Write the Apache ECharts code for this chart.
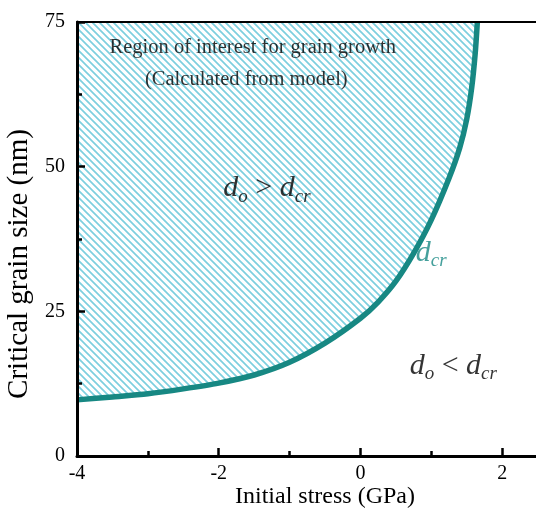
<!DOCTYPE html>
<html>
<head>
<meta charset="utf-8">
<script src="https://cdn.jsdelivr.net/npm/echarts@6/dist/echarts.min.js"></script>
<style>
html,body{margin:0;padding:0;background:#fff;}
#chart{width:536px;height:508px;}
</style>
</head>
<body>
<div id="chart"></div>
<script>
// ---- data ----
const stress = [-4, -3.5, -3, -2.5, -2, -1.5, -1, -0.5, 0, 0.25, 0.5, 0.75, 1.0, 1.25, 1.4, 1.5, 1.57, 1.62, 1.65];
const grainSize = [9.7, 10.2, 10.75, 11.6, 12.6, 14.0, 16.2, 19.5, 23.8, 26.6, 30.2, 35.0, 40.8, 48.0, 53.2, 58.2, 63.6, 69.6, 75.0];
const xTicks = [-4, -2, 0, 2];
const yTicks = [0, 25, 50, 75];
const xAxisTitle = 'Initial stress (GPa)';
const yAxisTitle = 'Critical grain size (nm)';
const annotationText = [
  '{t|Region of interest for grain growth}',
  '{t|(Calculated from model)}',
  '{d|d}{s|o}{op| > }{d|d}{s|cr}',
  '{dc|d}{sc|cr}',
  '{d|d}{s|o}{op| < }{d|d}{s|cr}'
];
const annotationX = [-1.52, -1.61, -1.32, 1.00, 1.31];
const annotationY = [70.5, 65.0, 46.3, 35.1, 15.6];

// ---- styles ----
const serif = 'Liberation Serif';
const teal = '#178883';
const hatch = '#7dcfdf';

function makeHatch() {
  const s = 7;
  const c = document.createElement('canvas');
  c.width = s; c.height = s;
  const ctx = c.getContext('2d');
  ctx.strokeStyle = hatch;
  ctx.lineWidth = 1.7;
  ctx.lineCap = 'square';
  [[-s, 0], [0, 0], [0, -s]].forEach(([ox, oy]) => {
    ctx.beginPath();
    ctx.moveTo(ox - 1, oy - 1);
    ctx.lineTo(ox + s + 1, oy + s + 1);
    ctx.stroke();
  });
  return c;
}

const richStyles = {
  t: { fontFamily: serif, fontSize: 20.5, color: '#000' },
  d: { fontFamily: serif, fontSize: 30, fontStyle: 'italic', color: '#000' },
  s: { fontFamily: serif, fontSize: 19, fontStyle: 'italic', color: '#000', padding: [17, 0, 0, 0] },
  op: { fontFamily: serif, fontSize: 30, color: '#000' },
  dc: { fontFamily: serif, fontSize: 30, fontStyle: 'italic', color: teal },
  sc: { fontFamily: serif, fontSize: 19, fontStyle: 'italic', color: teal, padding: [17, 0, 0, 0] }
};

const chart = echarts.init(document.getElementById('chart'), null, { renderer: 'canvas' });
const pattern = { image: makeHatch(), repeat: 'repeat' };

const option = {
  animation: false,
  backgroundColor: '#fff',
  grid: { left: 77, top: 22, width: 496, height: 434, outerBoundsMode: 'none', containLabel: false },
  xAxis: [{
    type: 'value', min: -4, max: 3, interval: 2, z: 10,
    name: xAxisTitle, nameLocation: 'middle', nameGap: 29, nameMoveOverlap: false,
    nameTextStyle: { fontFamily: serif, fontSize: 24, color: '#000' },
    axisLine: { show: true, onZero: false, lineStyle: { color: '#000', width: 3 } },
    axisTick: { show: true, inside: true, length: 8, lineStyle: { color: '#000', width: 2.5 } },
    minorTick: { show: true, splitNumber: 2, length: 5, lineStyle: { color: '#000', width: 2.5 } },
    axisLabel: { fontFamily: serif, fontSize: 20, color: '#000', margin: 8,
      formatter: v => xTicks.indexOf(v) >= 0 ? String(v) : '' },
    splitLine: { show: false }
  }, {
    type: 'value', position: 'top', min: -4, max: 3, z: 10,
    axisLine: { show: true, onZero: false, lineStyle: { color: '#000', width: 2 } },
    axisTick: { show: false }, axisLabel: { show: false }, splitLine: { show: false }
  }],
  yAxis: {
    type: 'value', min: 0, max: 75, interval: 25, z: 10,
    name: yAxisTitle, nameLocation: 'middle', nameGap: 42,
    nameTextStyle: { fontFamily: serif, fontSize: 29, color: '#000', padding: [0, 50, 0, 0] },
    axisLine: { show: true, onZero: false, lineStyle: { color: '#000', width: 3 } },
    axisTick: { show: true, inside: true, length: 8, lineStyle: { color: '#000', width: 2.5 } },
    minorTick: { show: true, splitNumber: 2, length: 5, lineStyle: { color: '#000', width: 2.5 } },
    axisLabel: { fontFamily: serif, fontSize: 20, color: '#000', margin: 12,
      formatter: v => yTicks.indexOf(v) >= 0 ? String(v) : '' },
    splitLine: { show: false }
  },
  series: [{
    type: 'line',
    data: stress.map((x, i) => [x, grainSize[i]]),
    smooth: 0.25,
    showSymbol: false,
    symbol: 'none',
    lineStyle: { color: teal, width: 5.5, join: 'round' },
    areaStyle: { origin: 'end', color: pattern, opacity: 1 },
    z: 2
  }, {
    type: 'scatter',
    symbolSize: 0,
    silent: true,
    data: annotationText.map((t, i) => ({ value: [annotationX[i], annotationY[i]], name: t })),
    label: { show: true, position: 'inside', formatter: p => p.name, rich: richStyles },
    z: 5
  }]
};
chart.setOption(option);
</script>
</body>
</html>
